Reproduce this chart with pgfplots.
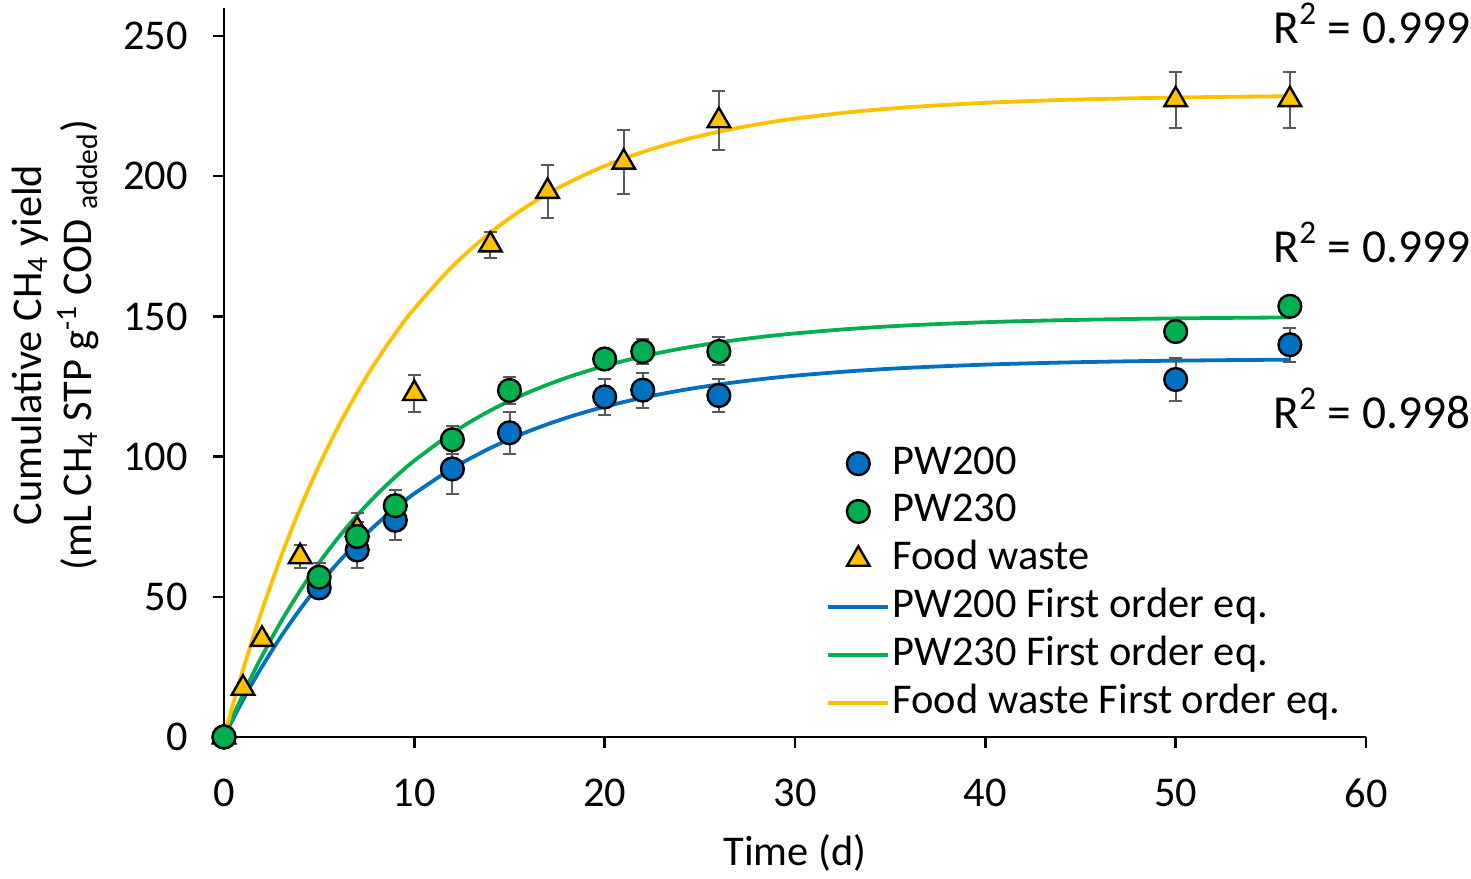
\documentclass[border=0pt]{standalone}
\usepackage{fontspec}
\setmainfont{Carlito}
\usepackage{pgfplots}
\pgfplotsset{compat=1.18}
\usepackage{pgfplotstable}
\definecolor{pwblue}{HTML}{0070C0}
\definecolor{pwgreen}{HTML}{00B050}
\definecolor{fwyellow}{HTML}{FFC000}
\definecolor{errgray}{HTML}{595959}
\newcommand\fs{\fontsize{21.2}{25}\selectfont}
\pgfplotsset{
  markleg/.style={legend image code/.code={\draw[##1, mark repeat=2, mark phase=2] plot coordinates {(0pt,0pt)(15pt,0pt)(30pt,0pt)};}},
  lineleg/.style={legend image code/.code={\draw[##1] (0pt,0pt) -- (30pt,0pt);}},
  ebar/.style={forget plot, only marks, mark=none, error bars/.cd, y dir=both, y explicit,
    error bar style={errgray, line width=1pt}, error mark options={rotate=90, errgray, mark size=3.2pt, line width=1pt}},
}

\pgfplotstableread{
x y e
0 0 0
5 53.2 3
7 66.7 6.3
9 77.3 7
12 95.6 9
15 108.5 7.5
20 121.3 6.5
22 123.7 6.2
26 121.8 5.8
50 127.5 7.6
56 139.9 6
}\pwA

\pgfplotstableread{
x y e
0 0 0
5 57 5
7 71.5 5
9 82.5 5.5
12 106 5
15 123.6 4.8
20 134.8 2.5
22 137.5 4.4
26 137.5 5
50 144.6 2
56 153.6 2
}\pwB

\pgfplotstableread{
x y e
0 0 0
1 17.4 2
2 34.8 2
4 64.3 4.2
7 74 6
10 122.5 6.5
14 175.5 4.5
17 194.6 9.5
21 205 11.4
26 219.8 10.5
50 227.3 10
56 227.3 10
}\fw

\pgfplotstableread{
x y
0 0
0.5 6.77
1 13.21
1.5 19.33
2 25.14
3 35.89
4 45.58
5 54.34
6 62.23
7 69.35
8 75.77
9 81.58
10 86.80
12 95.78
14 103.07
16 109.02
18 113.86
20 117.79
22 121.00
24 123.61
26 125.73
28 127.45
30 128.86
33 130.49
36 131.69
40 132.81
44 133.54
48 134.04
52 134.36
56 134.58
}\fitA

\pgfplotstableread{
x y
0 0
0.5 7.81
1 15.22
1.5 22.25
2 28.90
3 41.19
4 52.23
5 62.15
6 71.06
7 79.07
8 86.26
9 92.74
10 98.55
12 108.46
14 116.46
16 122.92
18 128.14
20 132.35
22 135.75
24 138.50
26 140.71
28 142.50
30 143.94
33 145.60
36 146.82
40 147.93
44 148.65
48 149.12
52 149.43
56 149.63
}\fitB

\pgfplotstableread{
x y
0 0
0.5 12.25
1 23.86
1.5 34.83
2 45.23
3 64.37
4 81.52
5 96.89
6 110.63
7 122.97
8 134.01
9 143.90
10 152.77
12 167.83
14 179.90
16 189.61
18 197.38
20 203.63
22 208.64
24 212.65
26 215.88
28 218.47
30 220.55
33 222.93
36 224.63
40 226.18
44 227.19
48 227.83
52 228.25
56 228.52
}\fitC

\begin{document}
\begin{tikzpicture}
\begin{axis}[
  at={(0,0)}, anchor=south west,
  scale only axis, width=571pt, height=364.5pt,
  xmin=0, xmax=60, ymin=0, ymax=260,
  xtick={0,10,...,60}, ytick={0,50,...,250},
  axis x line*=bottom, axis y line*=left,
  axis line style={-, line width=1.2pt, black},
  every outer x axis line/.append style={-},
  every outer y axis line/.append style={-},
  tick align=outside, major tick length=5.5pt,
  tick style={line width=1.2pt, black},
  tick label style={font=\fs},
  /pgf/number format/assume math mode=true,
  xticklabel style={yshift=-12pt},
  yticklabel style={xshift=-9pt},
  clip=false,
  legend cell align=left,
  legend style={at={(axis cs:31.63,104.9)}, anchor=north west, draw=none, fill=none,
    inner sep=0pt, row sep=3.5pt, column sep=0pt, font=\fs,
    nodes={inner xsep=1.25pt, inner ysep=0pt, text height=15.4pt, text depth=5pt}},
]
% legend images
\addlegendimage{only marks, mark=*, mark size=5.7pt, mark options={fill=pwblue, draw=black, line width=1.2pt}, markleg}
\addlegendentry{PW200}
\addlegendimage{only marks, mark=*, mark size=5.7pt, mark options={fill=pwgreen, draw=black, line width=1.2pt}, markleg}
\addlegendentry{PW230}
\addlegendimage{only marks, mark=triangle*, mark size=6.5pt, mark options={fill=fwyellow, draw=black, line width=1.2pt}, markleg}
\addlegendentry{Food waste}
\addlegendimage{pwblue, line width=1.9pt, lineleg}
\addlegendentry{PW200 First order eq.}
\addlegendimage{pwgreen, line width=1.9pt, lineleg}
\addlegendentry{PW230 First order eq.}
\addlegendimage{fwyellow, line width=1.9pt, lineleg}
\addlegendentry{Food waste First order eq.}

% fitted curves
\addplot[forget plot, pwblue, line width=1.9pt, no marks, smooth] table[x=x,y=y] {\fitA};
\addplot[forget plot, pwgreen, line width=1.9pt, no marks, smooth] table[x=x,y=y] {\fitB};
\addplot[forget plot, fwyellow, line width=1.9pt, no marks, smooth] table[x=x,y=y] {\fitC};

% error bars
\addplot[ebar] table[x=x, y=y, y error=e] {\fw};
\addplot[ebar] table[x=x, y=y, y error=e] {\pwA};
\addplot[ebar] table[x=x, y=y, y error=e] {\pwB};

% markers
\addplot[forget plot, only marks, mark=triangle*, mark size=6.5pt, mark options={fill=fwyellow, draw=black, line width=1.2pt}] table[x=x,y=y] {\fw};
\addplot[forget plot, only marks, mark=*, mark size=5.7pt, mark options={fill=pwblue, draw=black, line width=1.2pt}] table[x=x,y=y] {\pwA};
\addplot[forget plot, only marks, mark=*, mark size=5.7pt, mark options={fill=pwgreen, draw=black, line width=1.2pt}] table[x=x,y=y] {\pwB};

\node[anchor=base west, inner sep=0pt, font=\fontsize{23.7}{28}\selectfont] at (axis cs:55.12,247.5) {R\textsuperscript{2} = 0.999};
\node[anchor=base west, inner sep=0pt, font=\fontsize{23.7}{28}\selectfont] at (axis cs:55.12,169.4) {R\textsuperscript{2} = 0.999};
\node[anchor=base west, inner sep=0pt, font=\fontsize{23.7}{28}\selectfont] at (axis cs:55.12,110.2) {R\textsuperscript{2} = 0.998};

\node[font=\fs] at (axis cs:30,-41.5) {Time (d)};
\node[rotate=90, align=center, font=\fs] at (axis cs:-8.88,139.8)
  {Cumulative CH\textsubscript{4} yield\\(mL CH\textsubscript{4} STP g\textsuperscript{-1} COD \textsubscript{added})};
\end{axis}
\path (current axis.south west) ++(-112pt,-68pt) rectangle ++(735.5pt,436.5pt);
\end{tikzpicture}
\end{document}
